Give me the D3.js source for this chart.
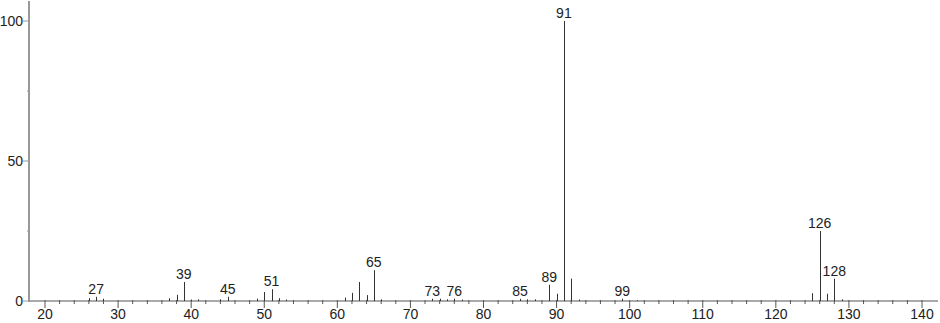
<!DOCTYPE html>
<html>
<head>
<meta charset="utf-8">
<script src="https://cdn.jsdelivr.net/npm/d3@7"></script>
<style>
  body { margin: 0; background: #fff; }
  text { font-family: "Liberation Sans", Arial, sans-serif; fill: #222; }
</style>
</head>
<body>
<div id="chart"></div>
<script>
// peak data (m/z and relative intensity, %)
var mz =        [26, 27, 28, 37, 38, 39, 40, 41, 44, 45, 49, 50, 51, 52, 53,
                 61, 62, 63, 64, 65, 66, 73, 74, 75, 76, 77, 85, 86, 87,
                 89, 90, 91, 92, 93, 99, 101, 125, 126, 127, 128, 129];
var intensity = [1.0, 1.5, 0.8, 1.0, 2.2, 6.8, 0.5, 0.6, 0.6, 1.5, 0.8, 3.2, 4.2, 1.0, 0.5,
                 1.2, 2.9, 6.8, 2.1, 11.0, 0.6, 0.8, 0.8, 0.6, 0.8, 0.5, 0.8, 0.6, 0.6,
                 5.8, 2.6, 100, 8.0, 0.5, 0.8, 0.3, 2.8, 25, 2.6, 8.0, 0.6];
var labelled = [27, 39, 45, 51, 65, 73, 76, 85, 89, 91, 99, 126, 128];
var xTicks = [20, 30, 40, 50, 60, 70, 80, 90, 100, 110, 120, 130, 140];
var yTicks = [0, 50, 100];

var width = 940, height = 323;

var svg = d3.select("#chart")
  .append("svg")
    .attr("width", width)
    .attr("height", height);

var x = d3.scaleLinear()
  .domain([20, 140])
  .range([45, 922]);

var y = d3.scaleLinear()
  .domain([0, 100])
  .range([301, 21]);

var peaks = mz.map(function(m, i) { return {mz: m, v: intensity[i]}; });

// x axis line
svg.append("line")
  .attr("x1", 29).attr("x2", 938)
  .attr("y1", y(0)).attr("y2", y(0))
  .attr("stroke", "#555").attr("stroke-width", 1);

// minor x ticks every 2
svg.append("g")
  .selectAll("line")
  .data(d3.range(20, 141, 2))
  .enter().append("line")
    .attr("x1", function(d) { return x(d); })
    .attr("x2", function(d) { return x(d); })
    .attr("y1", y(0) - 1)
    .attr("y2", function(d) { return d % 10 == 0 ? y(0) + 7 : y(0) + 3; })
    .attr("stroke", "#555");

svg.append("g")
  .selectAll("text")
  .data(xTicks)
  .enter().append("text")
    .attr("x", function(d) { return x(d); })
    .attr("y", 319)
    .attr("text-anchor", "middle")
    .attr("font-size", "14px")
    .text(function(d) { return d; });

// y axis
svg.append("line")
  .attr("x1", 29).attr("x2", 29)
  .attr("y1", 1).attr("y2", y(0) + 1)
  .attr("stroke", "#999").attr("stroke-width", 2);

svg.append("g")
  .selectAll("line")
  .data([0, 25, 50, 75, 100])
  .enter().append("line")
    .attr("x1", function(d) { return d % 50 == 0 ? 23 : 27; })
    .attr("x2", 29)
    .attr("y1", function(d) { return y(d); })
    .attr("y2", function(d) { return y(d); })
    .attr("stroke", "#999");

svg.append("g")
  .selectAll("text")
  .data(yTicks)
  .enter().append("text")
    .attr("x", 23)
    .attr("y", function(d) { return y(d) + 5; })
    .attr("text-anchor", "end")
    .attr("font-size", "14px")
    .text(function(d) { return d; });

// peaks
svg.append("g")
  .selectAll("line")
  .data(peaks)
  .enter().append("line")
    .attr("x1", function(d) { return Math.round(x(d.mz)) + 0.5; })
    .attr("x2", function(d) { return Math.round(x(d.mz)) + 0.5; })
    .attr("y1", y(0))
    .attr("y2", function(d) { return y(d.v); })
    .attr("stroke", "#333")
    .attr("stroke-width", 1);

// peak labels
svg.append("g")
  .selectAll("text")
  .data(peaks.filter(function(d) { return labelled.indexOf(d.mz) >= 0; }))
  .enter().append("text")
    .attr("x", function(d) { return x(d.mz); })
    .attr("y", function(d) { return y(d.v) - 3; })
    .attr("text-anchor", "middle")
    .attr("font-size", "14px")
    .text(function(d) { return d.mz; });
</script>
</body>
</html>
